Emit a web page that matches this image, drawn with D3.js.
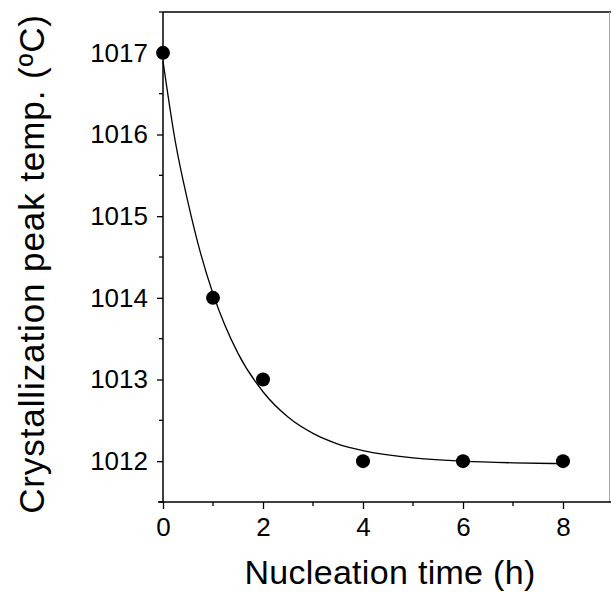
<!DOCTYPE html>
<html>
<head>
    <title>Crystallization peak temperature</title>
    <script src="https://d3js.org/d3.v7.min.js"></script>
    <style>
        body { margin: 0; background: #fff; }
        svg { display: block; }
    </style>
</head>
<body>
<div id="vis"></div>
<script>
    // measured points
    var hours = [0, 1, 2, 4, 6, 8];
    var peakTemp = [1017, 1014, 1013, 1012, 1012, 1012];

    // fitted curve
    var fitHours = [0, 0.25, 0.5, 0.75, 1, 1.5, 2, 2.5, 3, 3.5, 4, 5, 6, 7, 8];
    var fitTemp = [1016.9, 1015.9, 1015.17, 1014.55, 1014.05, 1013.32, 1012.85, 1012.54, 1012.34, 1012.21, 1012.13, 1012.04, 1012.0, 1011.98, 1011.97];

    var xMajor = [0, 2, 4, 6, 8];
    var xMinor = [1, 3, 5, 7];
    var yMajor = [1012, 1013, 1014, 1015, 1016, 1017];
    var yMinor = [1011.5, 1012.5, 1013.5, 1014.5, 1015.5, 1016.5, 1017.5];

    var width = 611, height = 592;
    var margin = {top: 12, left: 163, bottom: 90, right: 1};

    var svg = d3.select("#vis").append("svg")
        .attr("width", width)
        .attr("height", height);

    var xScale = d3.scaleLinear()
        .domain([0, 8.94])
        .range([margin.left, width - margin.right]);
    var yScale = d3.scaleLinear()
        .domain([1011.5, 1017.5])
        .range([height - margin.bottom, margin.top]);

    var font = "Liberation Sans, Arial, sans-serif";

    // frame top + right
    svg.append("line")
        .attr("x1", xScale(0)).attr("x2", width)
        .attr("y1", yScale(1017.5)).attr("y2", yScale(1017.5))
        .attr("stroke", "#000").attr("stroke-width", 1.5);
    svg.append("line")
        .attr("x1", xScale(8.94) - 0.5).attr("x2", xScale(8.94) - 0.5)
        .attr("y1", yScale(1017.5)).attr("y2", yScale(1011.5))
        .attr("stroke", "#aaa").attr("stroke-width", 1);

    // X axis
    var xAxis = svg.append("g")
        .attr("transform", "translate(0," + yScale(1011.5) + ")")
        .call(d3.axisBottom(xScale).tickValues(xMajor).tickSize(7).tickPadding(9).tickFormat(d3.format("d")));
    xAxis.select(".domain").attr("stroke-width", 1.5).attr("d", "M" + (xScale(0) - 5) + ",0H" + width);
    xAxis.selectAll("line").attr("stroke-width", 1.3);
    xAxis.selectAll("text")
        .attr("font-family", font).attr("font-size", 26).attr("fill", "#000");
    xAxis.selectAll(".minor")
        .data(xMinor).enter()
        .append("line").attr("class", "minor")
        .attr("x1", function(d) { return xScale(d); })
        .attr("x2", function(d) { return xScale(d); })
        .attr("y1", 0).attr("y2", 4)
        .attr("stroke", "#000").attr("stroke-width", 1.3);

    // Y axis
    var yAxis = svg.append("g")
        .attr("transform", "translate(" + xScale(0) + ",0)")
        .call(d3.axisLeft(yScale).tickValues(yMajor).tickSize(6).tickPadding(9).tickFormat(d3.format("d")));
    yAxis.select(".domain").attr("stroke-width", 1.5)
        .attr("d", "M0," + yScale(1017.5) + "V" + yScale(1011.5));
    yAxis.selectAll("line").attr("stroke-width", 1.3);
    yAxis.selectAll("text")
        .attr("font-family", font).attr("font-size", 26).attr("fill", "#000");
    yAxis.selectAll(".minor")
        .data(yMinor).enter()
        .append("line").attr("class", "minor")
        .attr("x1", 0).attr("x2", -4)
        .attr("y1", function(d) { return yScale(d); })
        .attr("y2", function(d) { return yScale(d); })
        .attr("stroke", "#000").attr("stroke-width", 1.3);

    // fit line
    var line = d3.line()
        .x(function(d, i) { return xScale(fitHours[i]); })
        .y(function(d) { return yScale(d); })
        .curve(d3.curveMonotoneX);
    svg.append("path")
        .datum(fitTemp)
        .attr("d", line)
        .attr("fill", "none")
        .attr("stroke", "#000")
        .attr("stroke-width", 1.3);

    // points
    svg.selectAll("circle.pt")
        .data(peakTemp)
        .enter()
        .append("circle")
        .attr("class", "pt")
        .attr("cx", function(d, i) { return xScale(hours[i]); })
        .attr("cy", function(d) { return yScale(d); })
        .attr("r", 7)
        .attr("fill", "#000");

    // axis titles
    svg.append("text")
        .attr("x", 390)
        .attr("y", 584)
        .attr("text-anchor", "middle")
        .attr("font-family", font)
        .attr("font-size", 34)
        .attr("letter-spacing", 0.3)
        .text("Nucleation time (h)");
    svg.append("text")
        .attr("transform", "translate(44," + 264 + ") rotate(-90)")
        .attr("text-anchor", "middle")
        .attr("font-family", font)
        .attr("font-size", 35)
        .attr("letter-spacing", 0.9)
        .text("Crystallization peak temp. (\u00BAC)");
</script>
</body>
</html>
